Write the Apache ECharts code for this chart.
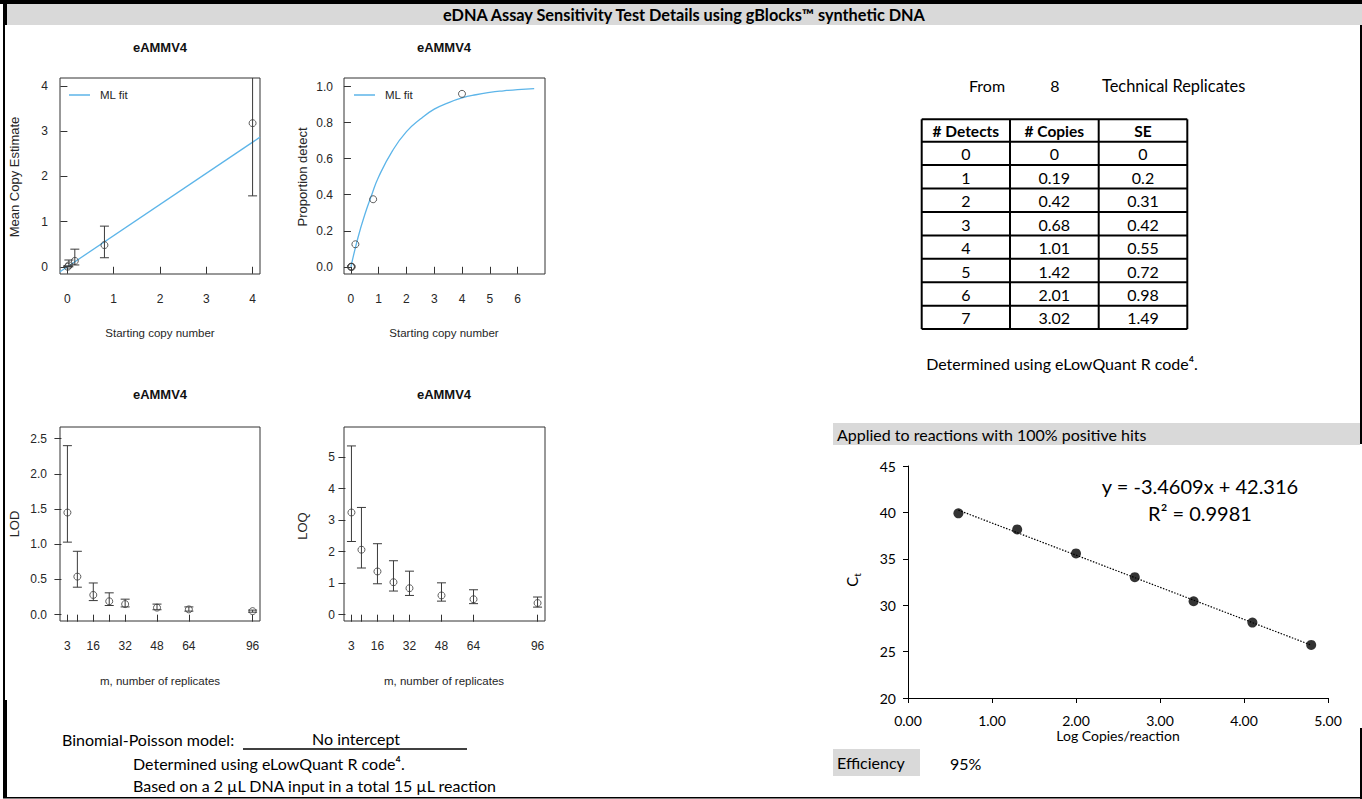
<!DOCTYPE html>
<html><head><meta charset="utf-8">
<script src="https://cdn.jsdelivr.net/npm/echarts@6/dist/echarts.min.js"></script>
<style>html,body{margin:0;padding:0;background:#fff}#c{width:1362px;height:799px}</style>
</head><body><div id="c"></div>
<script>
// ---------- DATA ----------
// Panel 1: Mean copy estimate vs starting copy number
const startCopies   = [0.0064, 0.032, 0.16, 0.8, 4];
const meanCopyEst   = [0.00, 0.03, 0.13, 0.48, 3.18];
const meanCopyLow   = [0.00, 0.00, 0.04, 0.20, 1.57];
const meanCopyHigh  = [0.02, 0.15, 0.39, 0.90, 4.60];
const linFitX = [-0.16, 4.16];
const linFitY = [-0.11, 2.87];
// Panel 2: proportion detect
const propDetect = [0, 0, 0.125, 0.375, 0.96];
const curveFitX = [0, 0.25, 0.5, 0.75, 1, 1.5, 2, 2.5, 3, 3.5, 4, 4.5, 5, 5.5, 6, 6.6];
const curveFitY = [0, 0.16, 0.29, 0.40, 0.50, 0.645, 0.75, 0.82, 0.875, 0.91, 0.937, 0.955, 0.968, 0.977, 0.984, 0.989];
// Panels 3 & 4: LOD / LOQ vs replicates
const replicates = [3, 8, 16, 24, 32, 48, 64, 96];
const replicateLabels = [3, 16, 32, 48, 64, 96];
const lod     = [1.45, 0.54, 0.28, 0.19, 0.15, 0.10, 0.075, 0.05];
const lodLow  = [1.03, 0.39, 0.20, 0.13, 0.11, 0.07, 0.05, 0.035];
const lodHigh = [2.40, 0.90, 0.45, 0.31, 0.22, 0.15, 0.11, 0.065];
const loq     = [3.24, 2.06, 1.37, 1.03, 0.84, 0.61, 0.49, 0.37];
const loqLow  = [2.32, 1.48, 0.98, 0.75, 0.61, 0.43, 0.35, 0.24];
const loqHigh = [5.35, 3.40, 2.25, 1.71, 1.38, 1.01, 0.79, 0.56];
// Standard curve
const logCopies = [0.60, 1.30, 2.00, 2.70, 3.40, 4.10, 4.80];
const ctValues  = [39.9, 38.17, 35.58, 33.02, 30.43, 28.13, 25.72];
const trendX = [0.60, 4.80];
const trendY = [40.24, 25.70];
// Table
const tableHeaders   = ['# Detects', '# Copies', 'SE'];
const detectCounts   = ['0', '1', '2', '3', '4', '5', '6', '7'];
const copyEstimates  = ['0', '0.19', '0.42', '0.68', '1.01', '1.42', '2.01', '3.02'];
const copySE         = ['0', '0.2', '0.31', '0.42', '0.55', '0.72', '0.98', '1.49'];
// Tick labels
const p1XTicks = [0, 1, 2, 3, 4];
const p1YTicks = [0, 1, 2, 3, 4];
const p2XTicks = [0, 1, 2, 3, 4, 5, 6];
const p2YTicks = [0, 0.2, 0.4, 0.6, 0.8, 1.0];
const p3YTicks = [0, 0.5, 1.0, 1.5, 2.0, 2.5];
const p4YTicks = [0, 1, 2, 3, 4, 5];

// ---------- STYLE ----------
const RF = '"Liberation Sans", Arial, Helvetica, sans-serif';
const XF = 'Lato, "Liberation Sans", sans-serif';
const RC = '#262626';
const XS = 16;

function rX(gi, min, max, ticks, labels, fmt) {
  return {
    type: 'value', gridIndex: gi, min: min, max: max,
    axisLine: {show: false}, splitLine: {show: false},
    axisTick: {show: true, length: 7, lineStyle: {color: '#333', width: 1}, customValues: ticks},
    axisLabel: {customValues: labels, margin: 19, color: RC, fontSize: 12, fontFamily: RF,
      formatter: fmt || (v => String(v))}
  };
}
function rY(gi, min, max, ticks, fmt, margin) {
  return {
    type: 'value', gridIndex: gi, min: min, max: max,
    axisLine: {show: false}, splitLine: {show: false},
    axisTick: {show: true, length: 7, lineStyle: {color: '#333', width: 1}, customValues: ticks},
    axisLabel: {customValues: ticks, margin: margin, color: RC, fontSize: 12, fontFamily: RF,
      formatter: fmt || (v => String(v))}
  };
}
function errBars(params, api) {
  const x = api.value(0), lo = api.value(1), hi = api.value(2);
  const a = api.coord([x, hi]), b = api.coord([x, lo]);
  const w = 4.5;
  const st = {stroke: '#3a3a3a', lineWidth: 1, fill: null};
  return {type: 'group', children: [
    {type: 'line', shape: {x1: a[0], y1: a[1], x2: b[0], y2: b[1]}, style: st},
    {type: 'line', shape: {x1: a[0] - w, y1: a[1], x2: a[0] + w, y2: a[1]}, style: st},
    {type: 'line', shape: {x1: b[0] - w, y1: b[1], x2: b[0] + w, y2: b[1]}, style: st}
  ]};
}
const circleStyle = {color: 'rgba(0,0,0,0)', borderColor: '#3a3a3a', borderWidth: 1};

const f1 = v => v.toFixed(1);

// ---------- GRAPHIC ----------
const G = [];
function rect(x, y, w, h, fill) { G.push({type: 'rect', shape: {x: x, y: y, width: w, height: h}, style: {fill: fill}, silent: true}); }
function txt(t, x, y, o) {
  o = o || {};
  G.push({type: 'text', x: x, y: y, rotation: o.rot || 0, silent: true, style: {
    text: t, fontSize: o.size || 12, fontFamily: o.font || RF, fontWeight: o.weight || 'normal',
    fill: o.color || '#000', align: o.align || 'center', verticalAlign: 'middle', rich: o.rich
  }});
}
function hline(x1, x2, y, w) { G.push({type: 'line', shape: {x1: x1, y1: y, x2: x2, y2: y}, style: {stroke: '#000', lineWidth: w}, silent: true}); }
function vline(x, y1, y2, w) { G.push({type: 'line', shape: {x1: x, y1: y1, x2: x, y2: y2}, style: {stroke: '#000', lineWidth: w}, silent: true}); }

// frame and bands
rect(0, 0, 1362, 4, '#000');
rect(7, 4, 1355, 21, '#d9d9d9');
rect(3, 0, 4, 25, '#000');
rect(3, 25, 2, 675, '#000');
rect(3, 700, 4, 98, '#000');
rect(3, 797, 1359, 1.5, '#000');
rect(1360, 25, 2, 419, '#000');
rect(1360, 728, 2, 71, '#000');
rect(833, 423, 527, 22, '#d9d9d9');
rect(833, 749, 87, 27, '#d9d9d9');
txt('eDNA Assay Sensitivity Test Details using gBlocks™ synthetic DNA', 684, 14.5, {size: 16.3, weight: 'bold', font: XF});

// R panel titles and axis titles
[[160, 47], [444, 47], [160, 394], [444, 394]].forEach(p => txt('eAMMV4', p[0], p[1], {size: 13, weight: 'bold', color: '#111'}));
txt('Starting copy number', 160, 333, {size: 11.5, color: RC});
txt('Starting copy number', 444, 333, {size: 11.5, color: RC});
txt('m, number of replicates', 160, 681, {size: 11.5, color: RC});
txt('m, number of replicates', 444, 681, {size: 11.5, color: RC});
txt('Mean Copy Estimate', 14, 177, {size: 13, color: RC, rot: Math.PI / 2});
txt('Proportion detect', 302, 177, {size: 13, color: RC, rot: Math.PI / 2});
txt('LOD', 14, 524, {size: 13, color: RC, rot: Math.PI / 2});
txt('LOQ', 302, 526, {size: 13, color: RC, rot: Math.PI / 2});

// table
const T = {left: 921.7, top: 119.3, cols: [921.7, 1010, 1098.7, 1187.3], headH: 22.4, rowH: 23.42};
const tBottom = T.top + T.headH + T.rowH * detectCounts.length;
T.cols.forEach(cx => vline(cx, T.top, tBottom, 2));
hline(T.left, T.cols[3], T.top, 2);
for (let i = 0; i <= detectCounts.length; i++) hline(T.left, T.cols[3], T.top + T.headH + i * T.rowH, 2);
const colC = [0, 1, 2].map(i => (T.cols[i] + T.cols[i + 1]) / 2);
tableHeaders.forEach((h, i) => txt(h, colC[i], T.top + T.headH / 2 + 0.5, {size: 15.5, weight: 'bold', font: XF}));
[detectCounts, copyEstimates, copySE].forEach((col, ci) => col.forEach((v, ri) =>
  txt(v, colC[ci], T.top + T.headH + T.rowH * (ri + 0.5) + 0.5, {size: XS, font: XF})));
txt('From', 987, 85, {size: XS, font: XF});
txt('8', 1055, 85, {size: XS, font: XF});
txt('Technical Replicates', 1102, 85, {size: 16.4, font: XF, align: 'left'});
txt('Determined using eLowQuant R code⁴.', 1062, 363, {size: XS, font: XF});

// right lower texts
txt('Applied to reactions with 100% positive hits', 837, 434, {size: XS, font: XF, align: 'left'});
txt('y = -3.4609x + 42.316', 1200, 486, {size: 20, font: XF});
txt('R² = 0.9981', 1200, 513, {size: 20, font: XF});
txt('Log Copies/reaction', 1118, 735, {size: 14, font: XF});
txt('{a|C}{b|t}', 853, 580, {size: 15, font: XF, rot: Math.PI / 2,
  rich: {a: {fontSize: 15, fontFamily: XF, fill: '#000', verticalAlign: 'top', lineHeight: 18},
         b: {fontSize: 10, fontFamily: XF, fill: '#000', verticalAlign: 'bottom', lineHeight: 18}}});
txt('Efficiency', 837, 762, {size: XS, font: XF, align: 'left'});
txt('95%', 950, 763, {size: XS, font: XF, align: 'left'});

// left bottom texts
txt('Binomial-Poisson model:', 62, 739, {size: XS, font: XF, align: 'left'});
txt('No intercept', 356, 738, {size: XS, font: XF});
hline(243, 467, 749, 1.5);
txt('Determined using eLowQuant R code⁴.', 133, 763, {size: XS, font: XF, align: 'left'});
txt('Based on a 2 µL DNA input in a total 15 µL reaction', 133, 785, {size: XS, font: XF, align: 'left'});

// ---------- CHART ----------
const chart = echarts.init(document.getElementById('c'), null, {renderer: 'svg'});
const gridBase = {show: true, borderColor: '#333', borderWidth: 1, backgroundColor: 'transparent', containLabel: false, outerBoundsMode: 'none'};
const option = {
  animation: false,
  backgroundColor: '#fff',
  legend: [
    {data: ['ML fit'], left: 69, top: 89, padding: 0, icon: 'rect', itemWidth: 21, itemHeight: 1.5,
     textStyle: {fontSize: 11.5, fontFamily: RF, color: RC, padding: [0, 0, 0, 5]}, selectedMode: false},
    {data: ['ML fit'], left: 354, top: 89, padding: 0, icon: 'rect', itemWidth: 21, itemHeight: 1.5,
     textStyle: {fontSize: 11.5, fontFamily: RF, color: RC, padding: [0, 0, 0, 5]}, selectedMode: false}
  ],
  grid: [
    Object.assign({left: 60, top: 78, width: 200, height: 196}, gridBase),
    Object.assign({left: 344, top: 78, width: 201, height: 196}, gridBase),
    Object.assign({left: 60, top: 427, width: 200, height: 194}, gridBase),
    Object.assign({left: 344, top: 427, width: 201, height: 194}, gridBase),
    {left: 908, top: 466, width: 420, height: 232, show: false, containLabel: false, outerBoundsMode: 'none'}
  ],
  xAxis: [
    rX(0, -0.16, 4.16, p1XTicks, p1XTicks),
    rX(1, -0.25, 6.99, p2XTicks, p2XTicks),
    rX(2, -0.72, 99.72, replicates, replicateLabels),
    rX(3, -0.72, 99.72, replicates, replicateLabels),
    {type: 'value', gridIndex: 4, min: 0, max: 5, interval: 1,
     axisLine: {show: true, lineStyle: {color: '#000', width: 1}}, splitLine: {show: false},
     axisTick: {show: true, length: 5, lineStyle: {color: '#000'}},
     axisLabel: {margin: 15, fontSize: 14, fontFamily: XF, color: '#000', formatter: v => v.toFixed(2)}}
  ],
  yAxis: [
    rY(0, -0.16, 4.18, p1YTicks, null, 12),
    rY(1, -0.04, 1.048, p2YTicks, f1, 11),
    rY(2, -0.09, 2.665, p3YTicks, f1, 13),
    rY(3, -0.2, 5.95, p4YTicks, null, 9),
    {type: 'value', gridIndex: 4, min: 20, max: 45, interval: 5,
     axisLine: {show: true, lineStyle: {color: '#000', width: 1}}, splitLine: {show: false},
     axisTick: {show: true, length: 5, lineStyle: {color: '#000'}},
     axisLabel: {margin: 12, fontSize: 14, fontFamily: XF, color: '#000'}}
  ],
  graphic: {elements: G},
  series: [
    {type: 'line', name: 'ML fit', xAxisIndex: 0, yAxisIndex: 0, symbol: 'none', clip: true,
     lineStyle: {color: '#5db5e9', width: 1.3}, itemStyle: {color: '#5db5e9'},
     data: linFitX.map((x, i) => [x, linFitY[i]]), z: 2},
    {type: 'custom', xAxisIndex: 0, yAxisIndex: 0, renderItem: errBars, clip: true, encode: {x: 0, y: [1, 2]},
     data: startCopies.map((x, i) => [x, meanCopyLow[i], meanCopyHigh[i]]), z: 3},
    {type: 'scatter', xAxisIndex: 0, yAxisIndex: 0, symbol: 'circle', symbolSize: 7, itemStyle: circleStyle,
     data: startCopies.map((x, i) => [x, meanCopyEst[i]]), z: 4},

    {type: 'line', name: 'ML fit', xAxisIndex: 1, yAxisIndex: 1, symbol: 'none', smooth: true, clip: true,
     lineStyle: {color: '#5db5e9', width: 1.3}, itemStyle: {color: '#5db5e9'},
     data: curveFitX.map((x, i) => [x, curveFitY[i]]), z: 2},
    {type: 'scatter', xAxisIndex: 1, yAxisIndex: 1, symbol: 'circle', symbolSize: 7, itemStyle: circleStyle,
     data: [0].concat(startCopies).map((x, i) => [x, i === 0 ? 0 : propDetect[i - 1]]), z: 4},

    {type: 'custom', xAxisIndex: 2, yAxisIndex: 2, renderItem: errBars, clip: true, encode: {x: 0, y: [1, 2]},
     data: replicates.map((m, i) => [m, lodLow[i], lodHigh[i]]), z: 3},
    {type: 'scatter', xAxisIndex: 2, yAxisIndex: 2, symbol: 'circle', symbolSize: 7, itemStyle: circleStyle,
     data: replicates.map((m, i) => [m, lod[i]]), z: 4},

    {type: 'custom', xAxisIndex: 3, yAxisIndex: 3, renderItem: errBars, clip: true, encode: {x: 0, y: [1, 2]},
     data: replicates.map((m, i) => [m, loqLow[i], loqHigh[i]]), z: 3},
    {type: 'scatter', xAxisIndex: 3, yAxisIndex: 3, symbol: 'circle', symbolSize: 7, itemStyle: circleStyle,
     data: replicates.map((m, i) => [m, loq[i]]), z: 4},

    {type: 'line', xAxisIndex: 4, yAxisIndex: 4, symbol: 'none',
     lineStyle: {color: '#000', width: 1.2, type: [1.5, 1.5]},
     data: trendX.map((x, i) => [x, trendY[i]]), z: 2},
    {type: 'scatter', xAxisIndex: 4, yAxisIndex: 4, symbol: 'circle', symbolSize: 10, itemStyle: {color: '#000'},
     data: logCopies.map((x, i) => [x, ctValues[i]]), z: 4}
  ]
};
chart.setOption(option);
</script></body></html>
